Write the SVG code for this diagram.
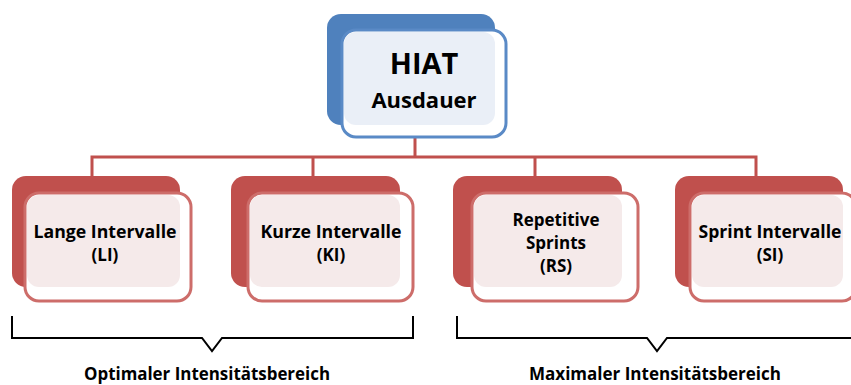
<svg xmlns="http://www.w3.org/2000/svg" width="851" height="385" viewBox="0 0 851 385">
  <style>
    .back-red { fill: #C0504D; }
    .front-red { fill: #FFFFFF; stroke: #CD6D6A; stroke-width: 3; }
    .fill-red { fill: #F5EAEA; }
    .back-blue { fill: #4F81BD; }
    .front-blue { fill: #FFFFFF; stroke: #5A8AC6; stroke-width: 3; }
    .fill-blue { fill: #EAEFF7; }
    .lbl { font-family: "Open Sans", "Noto Sans", "Liberation Sans", sans-serif; font-weight: bold; fill: #000; text-anchor: middle; }
    .node-lbl { font-size: 17px; }
    .range-lbl { font-size: 18px; }
    .conn { fill: none; stroke: #C0504D; stroke-width: 3; }
    .brace { fill: none; stroke: #000; stroke-width: 2; }
  </style>

  <!-- connectors -->
  <g id="connectors">
    <path class="conn" d="M415,138 V157 M92,176 V157 H756 V176 M313,157 V176 M535,157 V176"/>
  </g>

  <!-- root node -->
  <g id="node-hiat">
    <rect class="back-blue" x="327" y="14" width="168" height="111" rx="14"/>
    <rect class="front-blue" x="342" y="30" width="164" height="107" rx="14"/>
    <rect class="fill-blue" x="344" y="32" width="151" height="93" rx="12"/>
    <text class="lbl" x="424" y="74" font-size="29">HIAT</text>
    <text class="lbl" x="424" y="108" font-size="22">Ausdauer</text>
  </g>

  <g id="node-li">
    <rect class="back-red" x="12" y="176" width="168" height="111" rx="14"/>
    <rect class="front-red" x="25" y="193" width="166" height="108" rx="14"/>
    <rect class="fill-red" x="27" y="195" width="153" height="92" rx="12"/>
    <text class="lbl node-lbl" x="105" y="238" textLength="143" lengthAdjust="spacingAndGlyphs">Lange Intervalle</text>
    <text class="lbl node-lbl" x="105" y="261">(LI)</text>
  </g>

  <g id="node-ki">
    <rect class="back-red" x="231" y="176" width="169" height="111" rx="14"/>
    <rect class="front-red" x="248" y="193" width="165" height="108" rx="14"/>
    <rect class="fill-red" x="250" y="195" width="150" height="92" rx="12"/>
    <text class="lbl node-lbl" x="331" y="238" textLength="141" lengthAdjust="spacingAndGlyphs">Kurze Intervalle</text>
    <text class="lbl node-lbl" x="331" y="261">(KI)</text>
  </g>

  <g id="node-rs">
    <rect class="back-red" x="453" y="176" width="169" height="111" rx="14"/>
    <rect class="front-red" x="472" y="193" width="166" height="108" rx="14"/>
    <rect class="fill-red" x="474" y="195" width="148" height="92" rx="12"/>
    <text class="lbl node-lbl" x="556" y="226">Repetitive</text>
    <text class="lbl node-lbl" x="556" y="249">Sprints</text>
    <text class="lbl node-lbl" x="556" y="272">(RS)</text>
  </g>

  <g id="node-si">
    <rect class="back-red" x="675" y="176" width="168" height="111" rx="14"/>
    <rect class="front-red" x="690" y="193" width="166" height="108" rx="14"/>
    <rect class="fill-red" x="692" y="195" width="151" height="92" rx="12"/>
    <text class="lbl node-lbl" x="770" y="238" textLength="143" lengthAdjust="spacingAndGlyphs">Sprint Intervalle</text>
    <text class="lbl node-lbl" x="770" y="261">(SI)</text>
  </g>

  <!-- range braces -->
  <g id="brace-optimal">
    <path class="brace" d="M12,316 V338 H202 L212,351 L222,338 H413 V316"/>
    <text class="lbl range-lbl" x="207" y="380" textLength="246" lengthAdjust="spacingAndGlyphs">Optimaler Intensitätsbereich</text>
  </g>
  <g id="brace-maximal">
    <path class="brace" d="M457,316 V338 H647 L657,351 L667,338 H853"/>
    <text class="lbl range-lbl" x="655" y="380" textLength="252" lengthAdjust="spacingAndGlyphs">Maximaler Intensitätsbereich</text>
  </g>
</svg>
